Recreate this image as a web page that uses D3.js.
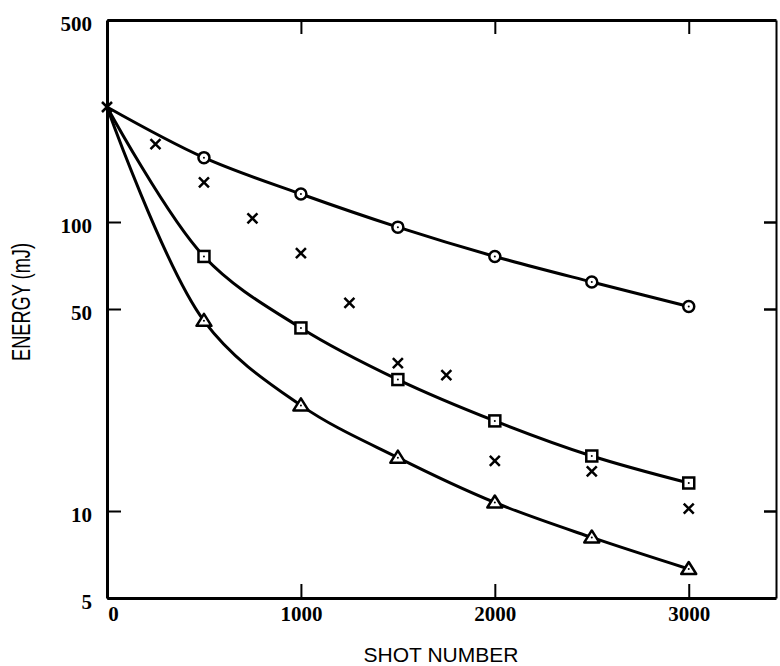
<!DOCTYPE html>
<html>
<head>
<meta charset="utf-8">
<script src="https://cdn.jsdelivr.net/npm/d3@7"></script>
<style>
	body { margin: 0; background: #fff; }
	svg { display: block; }
	.tick text { font-family: 'Liberation Serif', serif; font-weight: bold; font-size: 21px; fill: #000; }
</style>
</head>
<body>
<svg id="chart" width="780" height="666"></svg>
<script>
const W = 780;
const H = 666;

// shot numbers where the curves were measured
const shots = [0, 500, 1000, 1500, 2000, 2500, 3000];

// energy (mJ)
const circleSeries = [250, 167, 125, 96, 76, 62, 51];
const squareSeries = [250, 76, 43, 28.5, 20.5, 15.5, 12.5];
const triangleSeries = [250, 45.5, 23.2, 15.3, 10.7, 8.1, 6.3];

// scattered crosses
const crossShots = [0, 250, 500, 750, 1000, 1250, 1500, 1750, 2000, 2500, 3000];
const crossEnergy = [250, 186, 137, 103, 78, 52.5, 32.5, 29.5, 14.9, 13.7, 10.2];

const xTicks = [0, 1000, 2000, 3000];
const yTicks = [5, 10, 50, 100, 500];

const margin = { left: 107, right: 4, top: 20, bottom: 68 };

const x = d3.scaleLinear()
	.domain([0, 3450])
	.range([margin.left, W - margin.right]);

const y = d3.scaleLog()
	.domain([5, 500])
	.range([H - margin.bottom, margin.top]);

const svg = d3.select('#chart');

// frame + ticks, all pointing inward
const gLeft = svg.append('g')
	.attr('transform', `translate(${margin.left},0)`)
	.call(d3.axisLeft(y).tickValues(yTicks).tickFormat(d3.format('d')).tickSize(-14).tickSizeOuter(0).tickPadding(15));
gLeft.selectAll('.tick text').attr('dy', '0.5em');

const gBottom = svg.append('g')
	.attr('transform', `translate(0,${H - margin.bottom})`)
	.call(d3.axisBottom(x).tickValues(xTicks).tickFormat(d3.format('d')).tickSize(-14).tickSizeOuter(0).tickPadding(8));

const gTop = svg.append('g')
	.attr('transform', `translate(0,${margin.top})`)
	.call(d3.axisTop(x).tickValues(xTicks.slice(1)).tickFormat('').tickSize(-14).tickSizeOuter(0));

const gRight = svg.append('g')
	.attr('transform', `translate(${W - margin.right},0)`)
	.call(d3.axisRight(y).tickValues([10, 50, 100]).tickFormat('').tickSize(-12).tickSizeOuter(0));

[gLeft, gBottom, gTop].forEach(g => {
	g.select('.domain').attr('stroke', '#000').attr('stroke-width', 3);
	g.selectAll('.tick line').attr('stroke', '#000').attr('stroke-width', 2);
});
gRight.select('.domain').attr('stroke', '#000').attr('stroke-width', 2);
gRight.selectAll('.tick line').attr('stroke', '#000').attr('stroke-width', 2.5);
gBottom.selectAll('.tick').filter(d => d === 0).select('line').remove();
gBottom.selectAll('.tick').filter(d => d === 0).select('text').attr('x', 6);

// curves
const line = d3.line()
	.x(d => x(d[0]))
	.y(d => y(d[1]))
	.curve(d3.curveCatmullRom.alpha(0.5));

const curves = [circleSeries, squareSeries, triangleSeries];
svg.append('g')
	.selectAll('path')
	.data(curves)
	.enter()
	.append('path')
	.attr('d', s => line(shots.map((t, i) => [t, s[i]])))
	.attr('fill', 'none')
	.attr('stroke', '#000')
	.attr('stroke-width', 3)
	.attr('stroke-linejoin', 'round');

function pts(s) {
	return shots.map((t, i) => ({ x: x(t), y: y(s[i]) })).slice(1);
}

const gMarks = svg.append('g').attr('stroke', '#000').attr('fill', '#fff');

gMarks.selectAll('circle.c')
	.data(pts(circleSeries))
	.enter()
	.append('circle')
	.attr('class', 'c')
	.attr('cx', d => d.x)
	.attr('cy', d => d.y)
	.attr('r', 5.5)
	.attr('stroke-width', 2.5);

gMarks.selectAll('rect.s')
	.data(pts(squareSeries))
	.enter()
	.append('rect')
	.attr('class', 's')
	.attr('x', d => d.x - 5.5)
	.attr('y', d => d.y - 5.5)
	.attr('width', 11)
	.attr('height', 11)
	.attr('stroke-width', 2.5);

gMarks.selectAll('path.t')
	.data(pts(triangleSeries))
	.enter()
	.append('path')
	.attr('class', 't')
	.attr('d', d => `M${d.x},${d.y - 7}L${d.x + 7.5},${d.y + 5}L${d.x - 7.5},${d.y + 5}Z`)
	.attr('stroke-width', 2.5)
	.attr('stroke-linejoin', 'round');

// center dots
const allPts = [].concat(pts(circleSeries), pts(squareSeries), pts(triangleSeries));
svg.append('g')
	.selectAll('circle')
	.data(allPts)
	.enter()
	.append('circle')
	.attr('cx', d => d.x)
	.attr('cy', d => d.y)
	.attr('r', 1)
	.attr('fill', '#000');

// crosses
svg.append('g')
	.selectAll('path')
	.data(crossShots.map((t, i) => ({ x: x(t), y: y(crossEnergy[i]) })))
	.enter()
	.append('path')
	.attr('d', d => `M${d.x - 5},${d.y - 5}L${d.x + 5},${d.y + 5}M${d.x + 5},${d.y - 5}L${d.x - 5},${d.y + 5}`)
	.attr('stroke', '#000')
	.attr('stroke-width', 2.5);

// axis titles
svg.append('text')
	.attr('x', 441)
	.attr('y', 662)
	.attr('text-anchor', 'middle')
	.style('font-family', 'Liberation Sans, sans-serif')
	.style('font-size', '21px')
	.text('SHOT NUMBER');

svg.append('text')
	.attr('transform', 'translate(30,302) rotate(-90)')
	.attr('text-anchor', 'middle')
	.attr('textLength', 118)
	.attr('lengthAdjust', 'spacingAndGlyphs')
	.style('font-family', 'Liberation Sans, sans-serif')
	.style('font-size', '25px')
	.text('ENERGY (mJ)');
</script>
</body>
</html>
